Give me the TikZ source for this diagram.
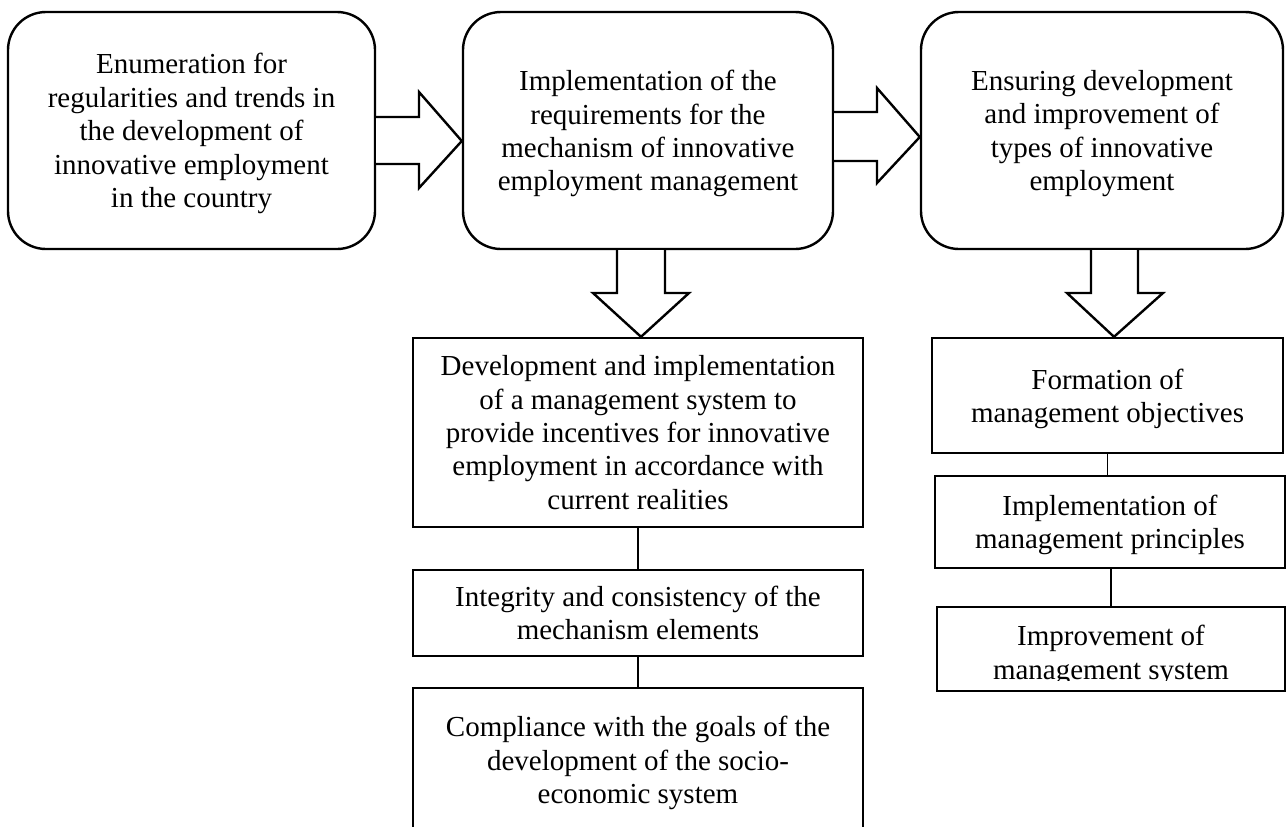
\documentclass[tikz,border=0pt]{standalone}
\usepackage{fontspec}
\setmainfont{Liberation Serif}
\newcommand{\fsz}{\fontsize{14.5pt}{16.7pt}\selectfont}
\begin{document}
\begin{tikzpicture}[x=0.5pt,y=-0.5pt,
  rbox/.style={draw, line width=1.2pt, rounded corners=19pt, align=center, inner sep=0pt, font=\fsz, text depth=-3pt},
  sbox/.style={draw, line width=1.2pt, align=center, inner sep=0pt, font=\fsz, text depth=-3pt},
  plaintext/.style={align=center, inner sep=0pt, font=\fsz},
  link/.style={line width=0.8pt},
  blockarrow/.style={draw, line width=1.2pt, fill=white, line join=miter}]
\useasboundingbox (0,0) rectangle (1287,826);
\clip (0,0) rectangle (1287,826);

% top row
\node[rbox, minimum width=183.5pt, minimum height=118.5pt] (b1) at (191.5,130.5)
  {Enumeration for\\regularities and trends in\\the development of\\innovative employment\\in the country};
\node[rbox, minimum width=185pt, minimum height=118.5pt] (b2) at (648,130.5)
  {Implementation of the\\requirements for the\\mechanism of innovative\\employment management};
\node[rbox, minimum width=181pt, minimum height=118.5pt] (b3) at (1102,130.5)
  {Ensuring development\\and improvement of\\types of innovative\\employment};

% middle column
\node[sbox, minimum width=225pt, minimum height=94.5pt] (b4) at (638,432.5)
  {Development and implementation\\of a management system to\\provide incentives for innovative\\employment in accordance with\\current realities};
\node[sbox, minimum width=225pt, minimum height=43pt] (b5) at (638,613)
  {Integrity and consistency of the\\mechanism elements};
\node[sbox, minimum width=225pt, minimum height=72pt] (b6) at (638,760)
  {Compliance with the goals of the\\development of the socio-\\economic system};

% right column
\node[sbox, minimum width=175.5pt, minimum height=57.5pt] (b7) at (1107.5,395.5)
  {Formation of\\management objectives};
\node[sbox, minimum width=175pt, minimum height=46pt] (b8) at (1110,522)
  {Implementation of\\management principles};
\node[sbox, minimum width=174pt, minimum height=42pt] (b9) at (1111,649) {};
\begin{scope}
  \clip (937,607) rectangle (1285,680);
  \node[plaintext] (b9text) at (1111,655.5) {Improvement of\\management system};
\end{scope}

% horizontal block arrows
\draw[blockarrow] (b1.east |- 0,117) -- (419,117) -- (419,92) -- (b2.west |- 0,141)
  -- (419,188) -- (419,164) -- (b1.east |- 0,164);
\draw[blockarrow] (b2.east |- 0,112) -- (877,112) -- (877,88) -- (b3.west |- 0,137)
  -- (877,183) -- (877,161) -- (b2.east |- 0,161);

% vertical block arrows
\draw[blockarrow] (b2.south -| 617,0) -- (617,293) -- (593,293) -- (b4.north -| 641,0)
  -- (689,293) -- (665,293) -- (b2.south -| 665,0);
\draw[blockarrow] (b3.south -| 1091,0) -- (1091,293) -- (1067,293) -- (b7.north -| 1114,0)
  -- (1163,293) -- (1138,293) -- (b3.south -| 1138,0);

% connectors
\draw[link] (b4.south) -- (b5.north);
\draw[link] (b5.south) -- (b6.north);
\draw[link] (b7.south) -- (b7.south |- b8.north);
\draw[link] (b8.south -| 1111,0) -- (b9.north);
\end{tikzpicture}
\end{document}
